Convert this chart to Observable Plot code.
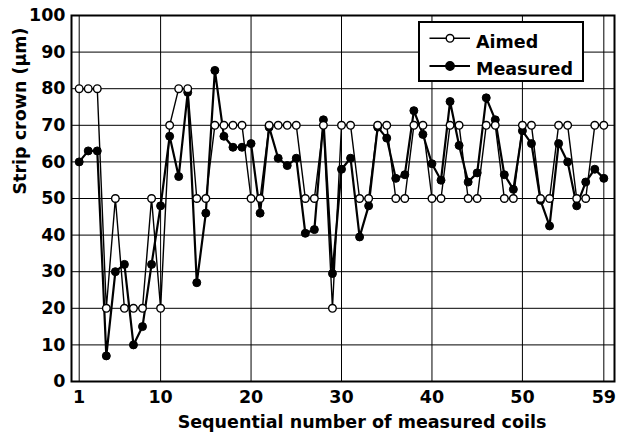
<!DOCTYPE html>
<html>
<head>
<meta charset="utf-8">
<script src="https://cdn.jsdelivr.net/npm/d3@7"></script>
<script src="https://cdn.jsdelivr.net/npm/@observablehq/plot@0.6"></script>
<style>
  body { margin: 0; background: #fff; }
  #wrap { position: relative; width: 635px; height: 432px; }
  #legend { position: absolute; left: 418px; top: 21px; width: 162px; height: 57px;
            border: 2px solid #000; background: #fff; }
  #legend svg { display: block; }
</style>
</head>
<body>
<div id="wrap"><div id="chart"></div><div id="legend"></div></div>
<script>
// ---- data ----
const coils = [1,2,3,4,5,6,7,8,9,10,11,12,13,14,15,16,17,18,19,20,21,22,23,24,25,26,27,28,29,30,
               31,32,33,34,35,36,37,38,39,40,41,42,43,44,45,46,47,48,49,50,51,52,53,54,55,56,57,58,59];
const aimed = [80,80,80,20,50,20,20,20,50,20,
               70,80,80,50,50,70,70,70,70,50,
               50,70,70,70,70,50,50,70,20,70,
               70,50,50,70,70,50,50,70,70,50,
               50,70,70,50,50,70,70,50,50,70,
               70,50,50,70,70,50,50,70,70];
const measured = [60,63,63,7,30,32,10,15,32,48,
                  67,56,79,27,46,85,67,64,64,65,
                  46,69.5,61,59,61,40.5,41.5,71.5,29.5,58,
                  61,39.5,48,69.5,66.5,55.5,56.5,74,67.5,59.5,
                  55,76.5,64.5,54.5,57,77.5,71.5,56.5,52.5,68.5,
                  65,49.5,42.5,65,60,48,54.5,58,55.5];
const xTicks = [1,10,20,30,40,50,59];
const yTicks = [0,10,20,30,40,50,60,70,80,90,100];
const yGrid = [10,20,30,40,50,60,70,80,90];
const xTitle = "Sequential number of measured coils";
const yTitle = "Strip crown (μm)";
const seriesNames = ["Aimed", "Measured"];

const rowsA = coils.map((c, i) => ({coil: c, v: aimed[i]}));
const rowsM = coils.map((c, i) => ({coil: c, v: measured[i]}));

const font = "DejaVu Sans";
const chart = Plot.plot({
  width: 635, height: 432,
  marginLeft: 71, marginRight: 21, marginTop: 15, marginBottom: 51,
  x: {domain: [0.15, 60.18]},
  y: {domain: [0, 100]},
  style: {fontFamily: font, fontWeight: "bold", fontSize: "17px", background: "#fff", color: "#000"},
  marks: [
    Plot.gridY(yGrid, {stroke: "#000", strokeOpacity: 1, strokeWidth: 1}),
    Plot.gridX(xTicks, {stroke: "#000", strokeOpacity: 1, strokeWidth: 1}),
    Plot.frame({stroke: "#000", strokeWidth: 2}),
    Plot.axisY(yTicks, {tickSize: 0, tickPadding: 6, fontSize: 17.5, fontWeight: "bold", fontFamily: font, label: null}),
    Plot.axisX(xTicks, {tickSize: 0, tickPadding: 9, fontSize: 17.5, fontWeight: "bold", fontFamily: font, label: null}),
    Plot.line(rowsA, {x: "coil", y: "v", stroke: "#000", strokeWidth: 1.4}),
    Plot.line(rowsM, {x: "coil", y: "v", stroke: "#000", strokeWidth: 2.2}),
    Plot.dot(rowsM, {x: "coil", y: "v", r: 4, fill: "#000", stroke: "#000", strokeWidth: 1}),
    Plot.dot(rowsA, {x: "coil", y: "v", r: 3.8, fill: "#fff", stroke: "#000", strokeWidth: 1.4}),
    Plot.text([xTitle], {text: d => d, frameAnchor: "bottom", lineAnchor: "bottom", dy: 46, dx: 19,
                         fontSize: 17.5, fontWeight: "bold", fontFamily: font, fill: "#000"}),
    Plot.text([yTitle], {text: d => d, frameAnchor: "left", rotate: -90, lineAnchor: "middle", dx: -51, dy: -4,
                         fontSize: 17.5, fontWeight: "bold", fontFamily: font, fill: "#000"})
  ]
});
document.getElementById("chart").appendChild(chart);

// ---- legend ----
const lg = d3.select("#legend").append("svg").attr("width", 162).attr("height", 57);
const rows = [
  {name: seriesNames[0], y: 15.3, sw: 1.4, fill: "#fff", r: 3.8},
  {name: seriesNames[1], y: 43, sw: 2.2, fill: "#000", r: 4.2}
];
rows.forEach(r => {
  lg.append("line").attr("x1", 9.5).attr("x2", 50).attr("y1", r.y).attr("y2", r.y)
    .attr("stroke", "#000").attr("stroke-width", r.sw);
  lg.append("circle").attr("cx", 30).attr("cy", r.y).attr("r", r.r)
    .attr("fill", r.fill).attr("stroke", "#000").attr("stroke-width", 1.4);
  lg.append("text").attr("x", 56).attr("y", r.y + 4)
    .attr("dy", "0.3em").attr("font-family", font).attr("font-weight", "bold").attr("font-size", 17.5)
    .attr("fill", "#000").text(r.name);
});
</script>
</body>
</html>
